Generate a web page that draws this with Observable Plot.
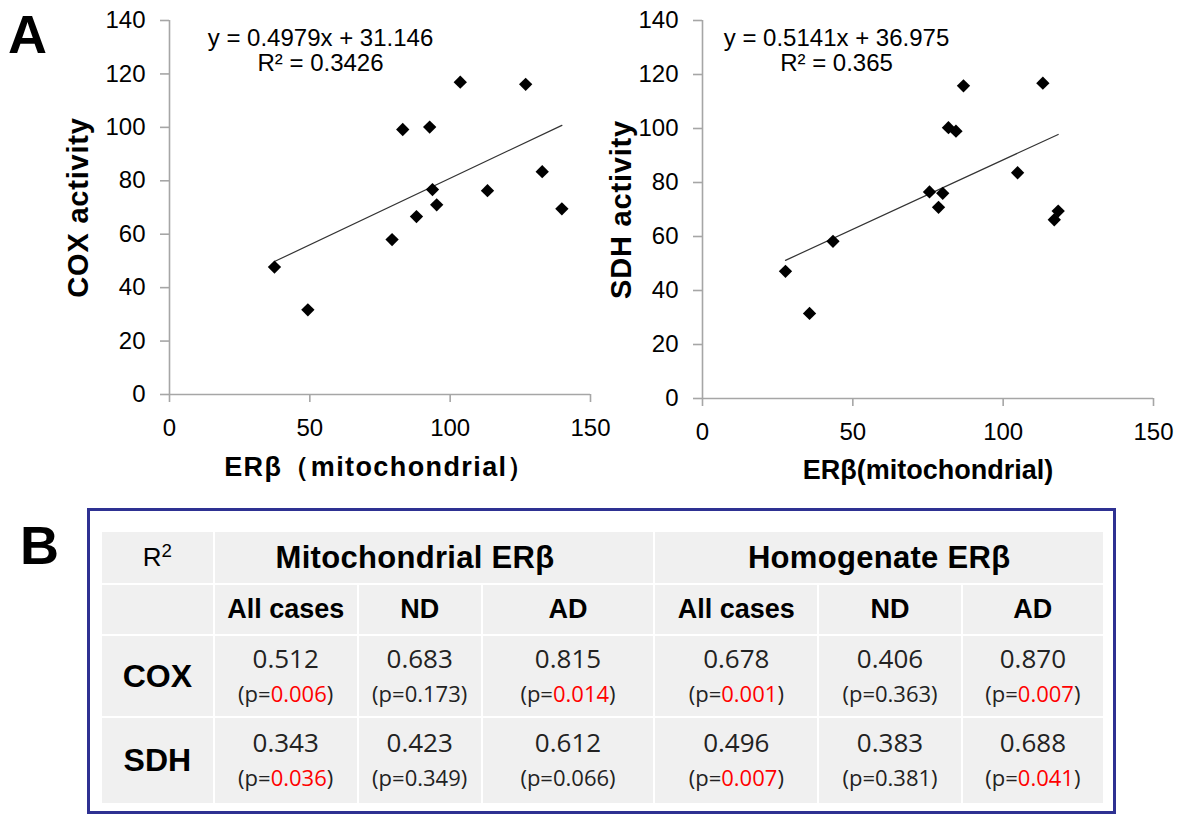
<!DOCTYPE html>
<html>
<head>
<meta charset="utf-8">
<script src="https://cdn.jsdelivr.net/npm/d3@7"></script>
<script src="https://cdn.jsdelivr.net/npm/@observablehq/plot@0.6"></script>
<style>
  html, body { margin: 0; padding: 0; background: #fff; }
  body { width: 1194px; height: 815px; position: relative; overflow: hidden; font-family: "Liberation Sans", Arial, sans-serif; }
  .letter { position: absolute; font-weight: bold; color: #000; line-height: 1; }
  #letterA { left: 8px; top: 7px; font-size: 54px; }
  #letterB { left: 20px; top: 518px; font-size: 54px; }
  #left { position: absolute; left: 0; top: 0; }
  #right { position: absolute; left: 590px; top: 0; }
  #box { position: absolute; left: 87px; top: 508px; width: 1029px; height: 306px; box-sizing: border-box; border: 3px solid #2e3192; }
  #tbl { position: absolute; left: 100px; top: 530px; width: 1003px; height: 273px; border-collapse: collapse; table-layout: fixed; }
  #tbl td { background: #f0f0f0; border: 2px solid #fff; text-align: center; vertical-align: middle; padding: 0; color: #000; }
  #tbl td.hdr { font-weight: bold; font-size: 31px; letter-spacing: 0.3px; }
  #tbl td.hdr.first { padding-right: 38px; }
  #tbl td.sub { font-weight: bold; font-size: 27px; }
  #tbl td.rowlab { font-weight: bold; font-size: 32px; }
  #tbl td.r2 { font-size: 26px; }
  #tbl td.val { font-family: "Open Sans", "Noto Sans", sans-serif; color: #222; line-height: 1; }
  .v { font-size: 26px; display: block; margin-top: -4px; }
  .p { font-size: 22px; display: block; margin-top: 11px; }
  .sig { color: #ff0000; }
</style>
</head>
<body>
<div id="letterA" class="letter">A</div>
<div id="left"></div>
<div id="right"></div>
<div id="letterB" class="letter">B</div>
<div id="box"></div>
<table id="tbl"></table>
<script>
// ---------- Panel A data ----------
const coxErb = [37.4, 49.3, 79.3, 83.1, 88.0, 92.7, 93.7, 95.2, 103.6, 113.3, 126.9, 132.8, 139.8];
const coxActivity = [47.7, 31.7, 58.0, 99.2, 66.6, 100.1, 76.7, 71.0, 116.9, 76.3, 116.1, 83.4, 69.5];
const sdhErb = [27.6, 35.6, 43.4, 75.5, 78.5, 79.9, 81.8, 84.3, 86.8, 104.8, 113.2, 117.0, 118.3];
const sdhActivity = [47.1, 31.5, 58.2, 76.5, 70.8, 76.0, 100.3, 99.0, 115.8, 83.6, 116.8, 66.2, 69.4];
const coxFit = [0.4979, 31.146];
const sdhFit = [0.5141, 36.975];
const coxEquation = "y = 0.4979x + 31.146\nR² = 0.3426";
const sdhEquation = "y = 0.5141x + 36.975\nR² = 0.365";
const xTicks = [0, 50, 100, 150];
const yTicks = [0, 20, 40, 60, 80, 100, 120, 140];

// ---------- Panel B data ----------
const groupHeaders = ["Mitochondrial ERβ", "Homogenate ERβ"];
const subHeaders = ["All cases", "ND", "AD"];
const rowLabels = ["COX", "SDH"];
const coxR2 = ["0.512", "0.683", "0.815", "0.678", "0.406", "0.870"];
const coxP = ["0.006", "0.173", "0.014", "0.001", "0.363", "0.007"];
const sdhR2 = ["0.343", "0.423", "0.612", "0.496", "0.383", "0.688"];
const sdhP = ["0.036", "0.349", "0.066", "0.007", "0.381", "0.041"];

const axisGray = "#a6a6a6";

function scatter(xs, ys, fit, equation, xLabel, yLabel, opts) {
  const data = xs.map((x, i) => ({x, y: ys[i]}));
  const [x0, x1] = d3.extent(xs);
  const fitLine = [x0, x1].map(x => ({x, y: fit[0] * x + fit[1]}));
  const svg = Plot.plot({
    width: opts.width,
    height: 490,
    marginTop: 20,
    marginBottom: opts.marginBottom,
    marginLeft: opts.marginLeft,
    marginRight: opts.marginRight,
    style: {background: "transparent", overflow: "visible", fontFamily: "'Liberation Sans', Arial, sans-serif", fontSize: "22px", color: "#000"},
    x: {domain: [0, 150], ticks: xTicks},
    y: {domain: [0, 140], ticks: yTicks},
    marks: [
      Plot.ruleY([0], {stroke: axisGray, strokeWidth: 1.6}),
      Plot.ruleX([0], {stroke: axisGray, strokeWidth: 1.6}),
      Plot.axisY({ticks: yTicks, tickSize: 9, tickPadding: 15, stroke: axisGray, strokeWidth: 1.6, fill: "#000", label: null, fontSize: 24}),
      Plot.axisX({ticks: xTicks, tickSize: 8, tickPadding: 16, stroke: axisGray, strokeWidth: 1.6, fill: "#000", label: null, fontSize: 24}),
      Plot.line(fitLine, {x: "x", y: "y", stroke: "#333", strokeWidth: 1.2}),
      Plot.dot(data, {x: "x", y: "y", symbol: "diamond2", fill: "#000", stroke: "none", r: 6}),
      Plot.text([equation], {frameAnchor: "top-left", dx: opts.eqDx, dy: 30, textAnchor: "middle", lineAnchor: "middle", lineHeight: 1.05, fontSize: 24, fill: "#000"}),
      Plot.text([xLabel], {frameAnchor: "bottom", dy: opts.xLabelDy, textAnchor: "middle", lineAnchor: "middle", fontSize: opts.xLabelSize, fontWeight: "bold", fill: "#000"}),
      Plot.text([yLabel], {frameAnchor: "left", dx: opts.yLabelDx, rotate: -90, textAnchor: "middle", lineAnchor: "middle", fontSize: 29, fontWeight: "bold", fill: "#000"})
    ]
  });
  svg.querySelectorAll("text").forEach(t => {
    if (t.textContent === xLabel) t.style.letterSpacing = opts.xLabelSpacing;
    if (t.textContent === yLabel) t.style.letterSpacing = "0.8px";
  });
  return svg;
}

document.getElementById("left").append(
  scatter(coxErb, coxActivity, coxFit, coxEquation, "ERβ（mitochondrial）", "COX activity",
    {width: 600, marginLeft: 169, marginRight: 10, marginBottom: 96, eqDx: 151, xLabelDy: 73, yLabelDx: -91, xLabelSize: 27, xLabelSpacing: "1.4px"})
);
document.getElementById("right").append(
  scatter(sdhErb, sdhActivity, sdhFit, sdhEquation, "ERβ(mitochondrial)", "SDH activity",
    {width: 604, marginLeft: 112, marginRight: 41, marginBottom: 92, eqDx: 134, xLabelDy: 72, yLabelDx: -81, xLabelSize: 27, xLabelSpacing: "0px"})
);

// ---------- table ----------
const tbl = d3.select("#tbl");
const colWidths = [112.7, 144, 124, 172.6, 164, 143.4, 142.3];
tbl.append("colgroup").selectAll("col").data(colWidths).join("col").style("width", d => d + "px");
const r1 = tbl.append("tr").style("height", "53px");
r1.append("td").attr("class", "r2").html("R<sup style='font-size:0.72em;vertical-align:0.5em;line-height:0'>2</sup>");
groupHeaders.forEach((g, i) => r1.append("td").attr("class", i === 0 ? "hdr first" : "hdr").attr("colspan", 3).text(g));
const r2 = tbl.append("tr").style("height", "51px");
r2.append("td");
groupHeaders.forEach(() => subHeaders.forEach(s => r2.append("td").attr("class", "sub").text(s)));
[[coxR2, coxP], [sdhR2, sdhP]].forEach(([vals, ps], i) => {
  const row = tbl.append("tr").style("height", i === 0 ? "82px" : "87px");
  row.append("td").attr("class", "rowlab").text(rowLabels[i]);
  vals.forEach((v, j) => {
    const td = row.append("td").attr("class", "val");
    td.append("span").attr("class", "v").text(v);
    const p = td.append("span").attr("class", "p");
    p.append("span").text("(p=");
    p.append("span").attr("class", +ps[j] < 0.05 ? "sig" : null).text(ps[j]);
    p.append("span").text(")");
  });
});
</script>
</body>
</html>
